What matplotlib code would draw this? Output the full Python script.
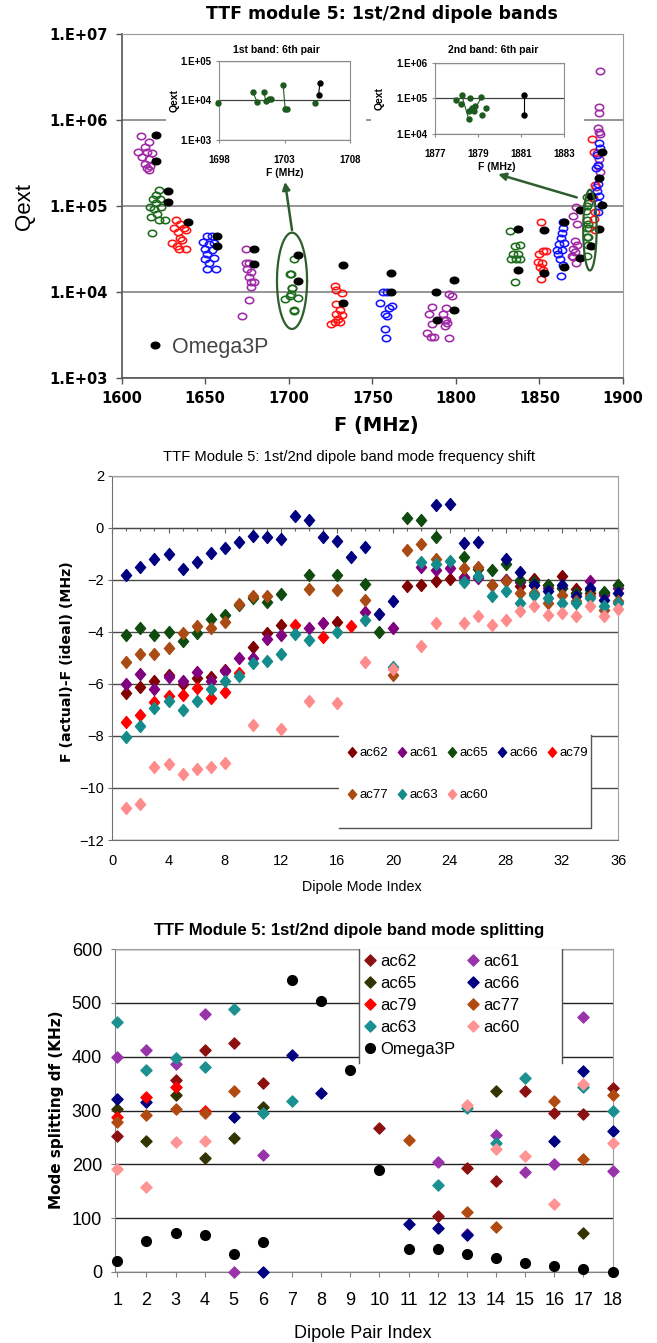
import numpy as np
import matplotlib
matplotlib.use("Agg")
import matplotlib.pyplot as plt
from matplotlib.path import Path
from matplotlib.patches import Rectangle
from matplotlib.lines import Line2D
from matplotlib.ticker import FixedLocator, NullLocator, MultipleLocator

nan = np.nan

# ======================= Panel 1 data (Qext vs F) =======================
q_ticks = [1e3, 1e4, 1e5, 1e6, 1e7]
q_tick_labels = ["1.E+03", "1.E+04", "1.E+05", "1.E+06", "1.E+07"]
f_ticks = [1600, 1650, 1700, 1750, 1800, 1850, 1900]

purple_f = [1611.8, 1616.3, 1613.8, 1610.0, 1615.0, 1618.0, 1612.5, 1616.3, 1613.8, 1617.0, 1615.0, 1616.3,
            1674.7, 1674.7, 1676.5, 1675.2, 1677.7, 1676.5, 1677.7, 1677.2, 1679.0, 1676.5, 1672.2,
            1785.5, 1784.2, 1783.0, 1785.0, 1786.8, 1785.5, 1792.5, 1794.2, 1796.0, 1797.5, 1795.0, 1794.2, 1793.5, 1796.0, 1793.0,
            1871.9, 1869.9, 1872.3, 1871.3, 1872.3, 1870.3, 1871.3, 1869.3, 1870.3, 1871.9,
            1886.2, 1885.8, 1885.8, 1885.2, 1885.8, 1886.2, 1884.2, 1885.8, 1885.2, 1886.2, 1883.8]
purple_q = [6.5e5, 5.6e5, 4.9e5, 4.3e5, 4.3e5, 4.1e5, 3.7e5, 3.5e5, 3.1e5, 2.95e5, 2.75e5, 2.6e5,
            3.2e4, 2.2e4, 2.2e4, 1.85e4, 1.7e4, 1.5e4, 1.3e4, 1.15e4, 1.3e4, 8.0e3, 5.2e3,
            6.7e3, 5.6e3, 3.3e3, 3.0e3, 3.0e3, 4.2e3, 5.6e3, 6.5e3, 9.5e3, 9.0e3, 4.4e3, 4.7e3, 4.0e3, 2.9e3, 4.7e3,
            9.8e4, 7.6e4, 6.2e4, 3.9e4, 3.55e4, 3.2e4, 2.95e4, 2.6e4, 2.55e4, 2.2e4,
            3.7e6, 1.4e6, 1.2e6, 8.0e5, 7.2e5, 6.8e5, 4.1e5, 3.5e5, 2.9e5, 2.5e5, 1.65e5]

green_f = [1622.6, 1620.5, 1618.8, 1623.0, 1620.8, 1617.0, 1619.5, 1623.8, 1621.3, 1617.5, 1622.6, 1626.3, 1618.0,
           1832.3, 1835.3, 1838.3, 1834.3, 1837.3, 1833.3, 1838.3, 1835.9, 1835.3]
green_q = [1.55e5, 1.35e5, 1.2e5, 1.2e5, 1.07e5, 9.8e4, 9.3e4, 9.8e4, 8.1e4, 7.4e4, 6.9e4, 6.9e4, 4.9e4,
           5.1e4, 3.4e4, 3.5e4, 2.8e4, 2.8e4, 2.4e4, 2.4e4, 2.4e4, 1.3e4]

red_f = [1632.6, 1635.0, 1631.3, 1637.6, 1633.8, 1638.8, 1635.0, 1636.3, 1630.0, 1633.0, 1638.8, 1634.6,
         1727.5, 1728.3, 1732.1, 1728.5, 1731.0, 1728.1, 1732.1, 1729.5, 1727.5, 1725.6, 1730.5,
         1850.7, 1852.3, 1853.9, 1849.9, 1849.3, 1851.3, 1850.3, 1852.0, 1850.7,
         1881.2, 1882.6, 1883.2, 1881.8, 1883.2, 1882.6, 1883.2]
red_q = [6.9e4, 6.2e4, 5.5e4, 5.5e4, 5.0e4, 5.2e4, 4.3e4, 4.0e4, 3.7e4, 3.4e4, 3.2e4, 3.15e4,
         1.17e4, 1.05e4, 9.8e3, 7.2e3, 6.2e3, 5.6e3, 5.4e3, 4.9e3, 4.5e3, 4.2e3, 4.5e3,
         6.5e4, 3.0e4, 3.0e4, 2.75e4, 2.25e4, 2.15e4, 1.95e4, 1.8e4, 1.4e4,
         6.0e5, 4.2e5, 1.75e5, 1.25e5, 8.5e4, 7.0e4, 5.3e4]

blue_f = [1650.9, 1653.9, 1648.9, 1652.6, 1655.1, 1650.1, 1653.9, 1651.4, 1655.6, 1650.1, 1652.6, 1656.4, 1651.4,
          1754.6, 1756.6, 1759.1, 1759.8, 1761.7, 1757.4, 1759.0, 1757.4, 1758.4,
          1864.3, 1863.9, 1863.3, 1862.7, 1861.9, 1864.5, 1860.3, 1863.3, 1861.3, 1862.3, 1863.9, 1862.7,
          1885.8, 1886.2, 1884.2, 1885.2, 1883.8, 1885.2, 1884.2, 1885.8, 1884.8, 1885.2]
blue_q = [4.5e4, 4.5e4, 3.8e4, 3.6e4, 3.7e4, 3.2e4, 3.1e4, 2.75e4, 2.5e4, 2.45e4, 2.15e4, 1.85e4, 1.85e4,
          7.4e3, 1.0e4, 1.0e4, 6.5e3, 6.8e3, 5.5e3, 5.2e3, 3.7e3, 2.9e3,
          6.6e4, 5.6e4, 4.8e4, 4.2e4, 3.6e4, 3.7e4, 3.1e4, 3.1e4, 2.75e4, 2.4e4, 2.05e4, 1.55e4,
          5.4e5, 4.7e5, 3.9e5, 3.0e5, 2.75e5, 1.8e5, 1.5e5, 1.3e5, 1.07e5, 8.5e4]

omega_f = [1620.5, 1620.5, 1627.6, 1627.6, 1640.0, 1657.1, 1657.1, 1679.4, 1679.4,
           1732.5, 1732.5, 1761.0, 1761.0, 1788.0, 1788.7, 1799.2, 1799.2,
           1837.0, 1837.0, 1852.7, 1852.7, 1864.7, 1864.7, 1874.3, 1874.3,
           1887.2, 1885.8, 1887.2, 1885.8]
omega_q = [6.7e5, 3.3e5, 1.48e5, 1.1e5, 6.5e4, 4.5e4, 3.4e4, 3.2e4, 2.1e4,
           2.05e4, 7.4e3, 1.65e4, 1.0e4, 1.0e4, 4.7e3, 1.38e4, 6.2e3,
           5.4e4, 1.82e4, 5.2e4, 1.65e4, 6.6e4, 1.95e4, 8.9e4, 2.5e4,
           4.2e5, 2.1e5, 1.02e5, 5.4e4]

# 1st band, 6th pair (inset 1 and ellipse in main plot)
b1_f = [1697.9, 1700.6, 1700.9, 1701.4, 1701.6, 1701.8, 1702.0, 1702.9, 1703.05, 1703.2, 1705.35]
b1_q = [8.4e3, 1.6e4, 9.1e3, 1.6e4, 9.6e3, 1.1e4, 1.1e4, 2.4e4, 6.0e3, 6.2e3, 8.6e3]
b1_pairs = [(1, 2), (3, 4), (7, 8)]
b1_omega_f = [1705.7, 1705.6]
b1_omega_q = [2.7e4, 1.36e4]
ins1_f_ticks = [1698, 1703, 1708]
ins1_q_ticks = [1e3, 1e4, 1e5]
ins1_q_labels = ["1.E+03", "1.E+04", "1.E+05"]

# 2nd band, 6th pair (inset 2 and ellipse in main plot)
b2_f = [1877.98, 1878.24, 1878.2, 1878.57, 1878.65, 1878.74, 1878.8, 1878.86, 1879.15, 1879.38, 1879.2, 1878.57]
b2_q = [8.8e4, 1.27e5, 6.8e4, 4.4e4, 1.0e5, 5.6e4, 4.4e4, 6.1e4, 1.07e5, 5.6e4, 3.5e4, 2.6e4]
b2_pairs = [(1, 11), (8, 6)]
b2_omega_f = [1881.15, 1881.15]
b2_omega_q = [1.29e5, 3.4e4]
ins2_f_ticks = [1877, 1879, 1881, 1883]
ins2_q_ticks = [1e4, 1e5, 1e6]
ins2_q_labels = ["1.E+04", "1.E+05", "1.E+06"]

# ======================= Panel 2 data (frequency shift) =======================
mode_idx = list(range(1, 37))
shift_ticks = [-12, -10, -8, -6, -4, -2, 0, 2]
idx_ticks = list(range(0, 37, 4))
ac62_s = [-6.35, -6.13, -5.9, -5.64, -6.0, -5.77, -5.75, -5.47, nan, -4.6, -4.05, -3.72, nan, nan, nan, -3.63,
          nan, nan, nan, nan, -2.22, -2.19, -2.03, -1.96, -1.9, nan, -2.2, -2.0, -2.25, -1.96, -2.2, -1.85,
          -2.36, -2.5, -2.5, -2.19]
ac61_s = [-6.0, -5.61, -6.19, -5.73, -5.9, -5.53, -5.9, -5.51, -4.99, -5.0, -4.29, -4.13, nan, -3.86, -3.65, nan,
          nan, -3.22, nan, -3.85, nan, -1.51, -1.64, -1.55, -1.95, -1.94, nan, -2.0, -2.1, -2.19, -2.3, -2.3,
          -2.5, -2.06, -2.6, -2.3]
ac65_s = [-4.13, -3.85, -4.13, -4.0, -4.36, -4.04, -3.49, -3.36, -2.95, -2.7, -2.86, -2.53, nan, -1.83, nan, -1.83,
          nan, -2.15, -4.0, nan, 0.36, 0.3, -0.35, nan, -1.11, -1.6, -1.62, -1.39, -2.0, -2.1, -2.2, -2.3,
          -2.5, -2.4, -2.48, -2.19]
ac66_s = [-1.82, -1.49, -1.21, -0.99, -1.6, -1.32, -0.96, -0.78, -0.55, -0.31, -0.37, -0.42, 0.47, 0.29, -0.34, -0.51,
          -1.13, -0.73, -3.3, -2.8, nan, nan, 0.87, 0.93, -0.57, -0.55, nan, -1.21, -1.72, -2.2, -2.45, -2.19,
          -2.61, -2.32, -2.76, -2.5]
ac79_s = [-7.45, -7.19, -6.68, -6.48, -6.42, -6.16, -6.55, -6.32, -5.57, nan, nan, nan, -3.72, nan, -4.2, nan,
          -3.76, nan, nan, nan, nan, nan, nan, nan, nan, nan, nan, nan, nan, nan, nan, nan,
          nan, nan, nan, nan]
ac77_s = [-5.17, -4.85, -4.87, -4.64, -4.06, -3.78, -3.85, -3.63, -2.92, -2.63, -2.63, nan, nan, -2.37, nan, -2.4,
          nan, -2.76, nan, -5.65, -0.86, -0.63, -1.22, nan, -1.55, -1.49, -2.19, -2.05, -2.5, -2.5, -2.9, -2.57,
          -2.83, -2.64, -3.15, -2.83]
ac63_s = [-8.06, -7.62, -6.94, -6.64, -7.0, -6.65, -6.19, -5.9, -5.7, -5.21, -5.12, -4.86, -4.1, -4.33, nan, -3.99,
          nan, -3.54, nan, -5.36, nan, -1.32, -1.38, -1.26, -2.09, -1.85, -2.64, -2.45, -2.9, -2.57, -2.7, -2.9,
          -2.9, -2.7, -3.0, -2.9]
ac60_s = [-10.77, -10.61, -9.18, -9.08, -9.47, -9.27, -9.21, -9.05, nan, -7.58, nan, -7.75, nan, -6.65, nan, -6.75,
          nan, -5.16, nan, -5.42, nan, -4.55, -3.65, nan, -3.65, -3.4, -3.72, -3.53, -3.2, -3.02, -3.34, -3.27,
          -3.38, -3.02, -3.4, -3.12]

# ======================= Panel 3 data (mode splitting) =======================
pair_idx = list(range(1, 19))
split_ticks = [0, 100, 200, 300, 400, 500, 600]
ac62_d = [253, nan, 356, 412, 426, 352, nan, nan, nan, 267, nan, 104, 194, 169, 336, 296, 293, 341]
ac61_d = [399, 412, 386, 479, 0, 217, nan, nan, nan, nan, nan, 205, 70, 254, 186, 201, 474, 187]
ac65_d = [302, 243, 329, 211, 248, 307, nan, nan, nan, nan, nan, nan, nan, 336, nan, nan, 73, nan]
ac66_d = [321, 315, nan, nan, 287, 0, 404, 332, nan, nan, 89, 82, 68, nan, nan, 243, 374, 262]
ac79_d = [288, 325, 343, 300, nan, nan, nan, nan, nan, nan, nan, nan, nan, nan, nan, nan, nan, nan]
ac77_d = [278, 291, 302, 296, 337, nan, nan, nan, nan, nan, 245, nan, 112, 84, nan, 317, 209, 329]
ac63_d = [465, 376, 397, 380, 489, 296, 317, nan, nan, nan, nan, 162, 305, 239, 360, nan, 344, 299]
ac60_d = [192, 158, 241, 243, nan, nan, nan, nan, nan, nan, nan, nan, 311, 229, 216, 127, 350, 239]
omega_d = [20, 58, 72, 68, 34, 56, 542, 504, 375, 190, 42, 42, 34, 26, 17, 11, 5, 0]

# ======================= figure setup =======================
W, H = 657, 1343
fig = plt.figure(figsize=(W / 100, H / 100), dpi=100)
fig.patch.set_facecolor("white")

NARROW = ["Liberation Sans Narrow", "Liberation Sans", "DejaVu Sans"]
ARIAL = ["Liberation Sans", "DejaVu Sans"]
DJ = ["DejaVu Sans"]


def prect(l, t, r, b):
    return [l / W, 1 - b / H, (r - l) / W, (b - t) / H]


def ftext(x, y, s, **kw):
    kw.setdefault("ha", "center")
    kw.setdefault("va", "center")
    return fig.text(x / W, 1 - y / H, s, **kw)


_t = np.linspace(0, 2 * np.pi, 41)
ELL = Path(np.c_[np.cos(_t), np.sin(_t) / 1.3], closed=True)
DIA2 = Path([(0, 1), (0.85, 0), (0, -1), (-0.85, 0), (0, 1)], closed=True)
DIA3 = Path([(0, 1), (1.0, 0), (0, -1), (-1.0, 0), (0, 1)], closed=True)


def style_ticklabels(ax, family, size, weight="normal"):
    for lab in ax.get_xticklabels() + ax.get_yticklabels():
        lab.set_fontfamily(family)
        lab.set_fontsize(size)
        lab.set_fontweight(weight)


# ======================= Panel 1 =======================
C_PUR, C_GRN, C_RED, C_BLU = "#a02aa6", "#1d6b1d", "#ff1414", "#1414ff"
C_ANN = "#2e5e2e"

ax1 = fig.add_axes(prect(121.5, 34, 623, 378))
ax1.set_xlim(1600, 1900)
ax1.set_yscale("log")
ax1.set_ylim(1e3, 1e7)
ax1.yaxis.set_major_locator(FixedLocator(q_ticks))
ax1.yaxis.set_minor_locator(NullLocator())
ax1.set_yticklabels(q_tick_labels)
ax1.set_xticks(f_ticks)
ax1.grid(axis="y", color="#8c8c8c", lw=1.3)
ax1.set_axisbelow(True)
for s in ["top", "right"]:
    ax1.spines[s].set_color("#9a9a9a")
for s in ["left", "bottom"]:
    ax1.spines[s].set_color("#555555")
    ax1.spines[s].set_linewidth(1.2)
ax1.tick_params(axis="both", length=4, width=1, color="#555555")
ax1.tick_params(axis="y", pad=6)
ax1.tick_params(axis="x", pad=5.5)
style_ticklabels(ax1, DJ, 10.5, "bold")

open_kw = dict(ls="none", marker=ELL, ms=6.0, mfc="none", mew=1.15)
ax1.plot(purple_f, purple_q, mec=C_PUR, **open_kw)
ax1.plot(green_f + b1_f + b2_f, green_q + b1_q + b2_q, mec=C_GRN, **open_kw)
ax1.plot(red_f, red_q, mec=C_RED, **open_kw)
ax1.plot(blue_f, blue_q, mec=C_BLU, **open_kw)
om_handle, = ax1.plot(omega_f + b1_omega_f + b2_omega_f, omega_q + b1_omega_q + b2_omega_q,
                      ls="none", marker=ELL, ms=6.2, color="black")

# ellipses and arrows pointing to the insets
_te = np.linspace(0, 2 * np.pi, 200)
ax1.plot(1702 + 9.0 * np.cos(_te), 10 ** (4.13 + 0.56 * np.sin(_te)), color=C_ANN, lw=1.6)
ax1.plot(1880.2 + 4.0 * np.cos(_te), 10 ** (4.72 + 0.47 * np.sin(_te)), color=C_ANN, lw=1.6)
arrow_kw = dict(arrowstyle="-|>", color=C_ANN, lw=1.8, mutation_scale=11, shrinkA=0, shrinkB=0)
ax1.annotate("", xy=(1697.8, 10 ** 5.28), xytext=(1702, 10 ** 4.72), arrowprops=arrow_kw)
ax1.annotate("", xy=(1825.3, 10 ** 5.37), xytext=(1872.3, 10 ** 5.10), arrowprops=arrow_kw)

leg1 = ax1.legend([om_handle], ["Omega3P"], loc="center left", bbox_to_anchor=(0.05, 0.09),
                  frameon=False, borderpad=0, borderaxespad=0, handlelength=0.8, handletextpad=0.4,
                  prop=dict(family=ARIAL, size=15.5))
for t in leg1.get_texts():
    t.set_color("#454545")

ftext(382, 14, "TTF module 5: 1st/2nd dipole bands", family=DJ, weight="bold", size=12.5)
ftext(25, 207, "Qext", family=ARIAL, size=16, rotation=90)
ftext(376, 425, "F (MHz)", family=DJ, weight="bold", size=14)

# white patches hiding the 1.E+06 gridline behind the insets
for (x0, x1) in [(166, 366), (371, 584)]:
    fig.add_artist(Rectangle((x0 / W, 1 - 128 / H), (x1 - x0) / W, 16 / H, transform=fig.transFigure,
                             facecolor="white", edgecolor="none", zorder=2))


def make_inset(pos, xlim, ylim, xt, yt, ylabels):
    ax = fig.add_axes(pos, zorder=3)
    ax.set_facecolor("white")
    ax.set_xlim(*xlim)
    ax.set_yscale("log")
    ax.set_ylim(*ylim)
    ax.yaxis.set_major_locator(FixedLocator(yt))
    ax.yaxis.set_minor_locator(NullLocator())
    ax.set_yticklabels(ylabels)
    ax.set_xticks(xt)
    ax.grid(axis="y", color="#404040", lw=0.9)
    ax.set_axisbelow(True)
    for s in ax.spines.values():
        s.set_color("#8c8c8c")
    ax.tick_params(axis="both", length=2.5, width=0.8, color="#8c8c8c")
    ax.tick_params(axis="y", pad=3)
    ax.tick_params(axis="x", pad=8)
    style_ticklabels(ax, ARIAL, 7, "bold")
    return ax


ins1 = make_inset(prect(219, 60.7, 350, 140), (1698, 1708), (1e3, 1e5), ins1_f_ticks, ins1_q_ticks, ins1_q_labels)
ins1.plot(b1_f, b1_q, ls="none", marker="o", ms=3.6, color="#1d5a1d", clip_on=False, zorder=3)
for a, b in b1_pairs:
    ins1.plot([b1_f[a], b1_f[b]], [b1_q[a], b1_q[b]], color="#1d5a1d", lw=0.8, zorder=2)
ins1.plot(b1_omega_f, b1_omega_q, color="black", lw=0.8, marker="o", ms=3.6, zorder=3)

ins2 = make_inset(prect(435, 62.7, 564, 134.3), (1877, 1883), (1e4, 1e6), ins2_f_ticks, ins2_q_ticks, ins2_q_labels)
ins2.plot(b2_f, b2_q, ls="none", marker="o", ms=3.6, color="#1d5a1d", zorder=3)
for a, b in b2_pairs:
    ins2.plot([b2_f[a], b2_f[b]], [b2_q[a], b2_q[b]], color="#1d5a1d", lw=0.8, zorder=2)
ins2.plot(b2_omega_f, b2_omega_q, color="black", lw=0.8, marker="o", ms=3.6, zorder=3)

ftext(276, 50, "1st band: 6th pair", family=ARIAL, weight="bold", size=7.5, zorder=5)
ftext(493, 50, "2nd band: 6th pair", family=ARIAL, weight="bold", size=7.5, zorder=5)
ftext(175, 101, "Qext", family=ARIAL, weight="bold", size=7.5, rotation=90, zorder=5)
ftext(380, 98, "Qext", family=ARIAL, weight="bold", size=7.5, rotation=90, zorder=5)
ftext(285, 173, "F (MHz)", family=ARIAL, weight="bold", size=7.5, zorder=5)
ftext(497, 167, "F (MHz)", family=ARIAL, weight="bold", size=7.5, zorder=5)

# ======================= Panel 2 =======================
series2 = [("ac62", ac62_s, "#800000"), ("ac61", ac61_s, "#800080"), ("ac65", ac65_s, "#0f4b0f"),
           ("ac66", ac66_s, "#000080"), ("ac79", ac79_s, "#ff0000"), ("ac77", ac77_s, "#aa4b14"),
           ("ac63", ac63_s, "#148c8c"), ("ac60", ac60_s, "#ff8c8c")]

ax2 = fig.add_axes(prect(112.3, 475.7, 618.2, 840))
ax2.set_xlim(0, 36)
ax2.set_ylim(-12, 2)
ax2.set_yticks(shift_ticks)
ax2.set_xticks(idx_ticks)
ax2.grid(axis="y", color="#4a4a4a", lw=1.0)
ax2.set_axisbelow(True)
for s in ["top", "right"]:
    ax2.spines[s].set_color("#a0a0a0")
for s in ["left", "bottom"]:
    ax2.spines[s].set_color("#707070")
ax2.tick_params(axis="x", length=0, pad=10)
ax2.tick_params(axis="y", length=3, width=0.8, color="#707070", pad=3)
style_ticklabels(ax2, NARROW, 10.5)

sec = ax2.secondary_xaxis(12 / 14)
sec.set_xticks(idx_ticks)
sec.xaxis.set_minor_locator(MultipleLocator(1))
sec.tick_params(which="both", direction="in", labeltop=False, labelbottom=False, color="#606060", width=0.8)
sec.tick_params(which="major", length=3.5)
sec.tick_params(which="minor", length=2.5)
for s in sec.spines.values():
    s.set_color("#606060")

h2 = {}
for k, (name, vals, col) in enumerate(series2):
    h2[name], = ax2.plot(mode_idx, vals, ls="none", marker=DIA2, ms=8.6, color=col, clip_on=False,
                         zorder=3 + 0.01 * k, label=name)

# legend box (white, with right/bottom border)
ax2.add_patch(Rectangle((0.448, 0.033), 0.498, 0.255, transform=ax2.transAxes, facecolor="white",
                        edgecolor="none", zorder=4))
ax2.add_line(Line2D([0.448, 0.946, 0.946], [0.033, 0.033, 0.288], transform=ax2.transAxes,
                    color="#555555", lw=1.0, zorder=4.1))
order2 = ["ac62", "ac77", "ac61", "ac63", "ac65", "ac60", "ac66", "ac79"]
leg2_handles = [Line2D([], [], ls="none", marker=DIA2, ms=7, color=h2[n].get_color()) for n in order2]
leg2 = ax2.legend(leg2_handles, order2, ncol=5, loc="upper left", bbox_to_anchor=(0.466, 0.255),
                  frameon=False, borderpad=0, borderaxespad=0, handlelength=0.6, handletextpad=0.25,
                  columnspacing=0.77, labelspacing=2.25, prop=dict(family=NARROW, size=9.5))
leg2.set_zorder(5)

ftext(349, 457, "TTF Module 5: 1st/2nd dipole band mode frequency shift", family=NARROW, size=10.6)
ftext(67, 662, "F (actual)-F (ideal) (MHz)", family=DJ, weight="bold", size=10.2, rotation=90)
ftext(362, 887, "Dipole Mode Index", family=NARROW, size=10.3)

# ======================= Panel 3 =======================
series3 = [("ac62", ac62_d, "#8b1010"), ("ac61", ac61_d, "#9933aa"), ("ac65", ac65_d, "#333300"),
           ("ac66", ac66_d, "#000080"), ("ac79", ac79_d, "#ff0000"), ("ac77", ac77_d, "#b04a10"),
           ("ac63", ac63_d, "#1a9090"), ("ac60", ac60_d, "#ff9494")]

ax3 = fig.add_axes(prect(115.2, 949, 612.5, 1272))
ax3.set_xlim(0.93, 18.0)
ax3.set_ylim(0, 600)
ax3.set_yticks(split_ticks)
ax3.set_xticks(pair_idx)
ax3.grid(axis="y", color="#222222", lw=1.0)
ax3.set_axisbelow(True)
for s in ["top", "right"]:
    ax3.spines[s].set_color("#a0a0a0")
for s in ["left", "bottom"]:
    ax3.spines[s].set_color("#808080")
ax3.tick_params(axis="x", length=3.6, width=0.8, color="#808080", pad=11)
ax3.tick_params(axis="y", length=3, width=0.8, color="#808080", pad=6.5)
style_ticklabels(ax3, NARROW, 13)

h3 = {}
for k, (name, vals, col) in enumerate(series3):
    h3[name], = ax3.plot(pair_idx, vals, ls="none", marker=DIA3, ms=8, color=col, clip_on=False,
                         zorder=3 + 0.01 * k)
h3["Omega3P"], = ax3.plot(pair_idx, omega_d, ls="none", marker="o", ms=7, color="black", clip_on=False,
                          zorder=3.2)

ax3.add_patch(Rectangle((0.491, 0.647), 0.407, 0.353, transform=ax3.transAxes, facecolor="white",
                        edgecolor="none", zorder=4))
for xx in (0.491, 0.898):
    ax3.add_line(Line2D([xx, xx], [0.647, 1.0], transform=ax3.transAxes, color="#555555", lw=1.0, zorder=4.1))
order3 = ["ac62", "ac65", "ac79", "ac63", "Omega3P", "ac61", "ac66", "ac77", "ac60"]
leg3_handles = []
for n in order3:
    if n == "Omega3P":
        leg3_handles.append(Line2D([], [], ls="none", marker="o", ms=7, color="black"))
    else:
        leg3_handles.append(Line2D([], [], ls="none", marker=DIA3, ms=8, color=h3[n].get_color()))
leg3 = ax3.legend(leg3_handles, order3, ncol=2, loc="upper left", bbox_to_anchor=(0.491, 1.0),
                  frameon=False, borderpad=0.3, borderaxespad=0, handlelength=0.66, handletextpad=0.3,
                  columnspacing=0.7, labelspacing=0.42, prop=dict(family=ARIAL, size=12))
leg3.set_zorder(5)

ftext(349, 931, "TTF Module 5: 1st/2nd dipole band mode splitting", family=NARROW, weight="bold", size=12)
ftext(56.5, 1110, "Mode splitting df (KHz)", family=DJ, weight="bold", size=11, rotation=90)
ftext(363, 1333, "Dipole Pair Index", family=NARROW, size=13)

fig.savefig("out.png", dpi=100)
